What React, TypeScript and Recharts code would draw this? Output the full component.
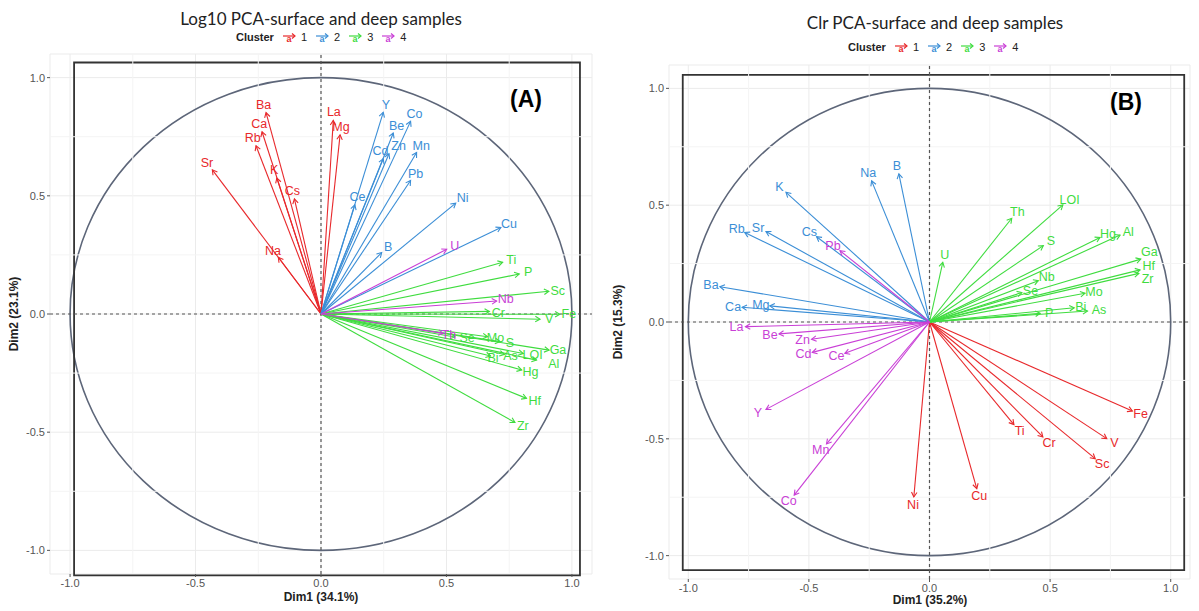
import React from "react";
import {
  ComposedChart,
  XAxis,
  YAxis,
  CartesianGrid,
  ReferenceLine,
  ReferenceArea,
  Scatter,
} from "recharts";

// ── Data: Log10 PCA (panel A) ────────────────────────────────────────────────
const logVars = [
  "Ba", "Ca", "Rb", "K", "Cs", "Na", "Sr", "La", "Mg",
  "Y", "Co", "Be", "Zn", "Cd", "Mn", "Pb", "Ce", "Ni", "B", "Cu",
  "Ti", "P", "Sc", "Cr", "Fe", "V", "Mo", "Se", "S", "LOI", "Ga", "Al", "As", "Hg", "Bi", "Hf", "Zr",
  "U", "Nb", "Th",
];
const logDim1 = [
  -0.219, -0.235, -0.259, -0.176, -0.106, -0.17, -0.433, 0.049, 0.076,
  0.248, 0.357, 0.288, 0.271, 0.248, 0.381, 0.357, 0.135, 0.537, 0.242, 0.717,
  0.724, 0.79, 0.908, 0.671, 0.952, 0.873, 0.664, 0.534, 0.713, 0.806, 0.909, 0.859, 0.731, 0.8, 0.676, 0.819, 0.773,
  0.501, 0.7, 0.487,
];
const logDim2 = [
  0.852, 0.771, 0.712, 0.575, 0.487, 0.24, 0.61, 0.819, 0.758,
  0.853, 0.815, 0.766, 0.678, 0.657, 0.683, 0.565, 0.462, 0.469, 0.26, 0.366,
  0.219, 0.169, 0.096, 0.011, -0.001, -0.022, -0.096, -0.097, -0.117, -0.167, -0.153, -0.195, -0.171, -0.237, -0.178, -0.357, -0.459,
  0.274, 0.055, -0.082,
];
const logCluster = [
  1, 1, 1, 1, 1, 1, 1, 1, 1,
  2, 2, 2, 2, 2, 2, 2, 2, 2, 2, 2,
  3, 3, 3, 3, 3, 3, 3, 3, 3, 3, 3, 3, 3, 3, 3, 3, 3,
  4, 4, 4,
];

// ── Data: Clr PCA (panel B) ──────────────────────────────────────────────────
const clrVars = [
  "Fe", "Ti", "Cr", "V", "Sc", "Cu", "Ni",
  "K", "Na", "B", "Rb", "Sr", "Cs", "Ba", "Mg", "Ca",
  "U", "Th", "LOI", "S", "Hg", "Al", "Ga", "Hf", "Zr", "Nb", "Mo", "Se", "Bi", "As", "P",
  "Pb", "La", "Be", "Zn", "Cd", "Ce", "Y", "Mn", "Co",
];
const clrDim1 = [
  0.841, 0.35, 0.47, 0.735, 0.687, 0.196, -0.065,
  -0.595, -0.24, -0.127, -0.766, -0.678, -0.468, -0.869, -0.662, -0.777,
  0.055, 0.341, 0.553, 0.472, 0.707, 0.79, 0.876, 0.873, 0.868, 0.451, 0.645, 0.383, 0.6, 0.655, 0.459,
  -0.371, -0.763, -0.624, -0.489, -0.486, -0.351, -0.678, -0.427, -0.561,
];
const clrDim2 = [
  -0.381, -0.439, -0.492, -0.499, -0.585, -0.713, -0.749,
  0.555, 0.604, 0.634, 0.383, 0.387, 0.365, 0.151, 0.069, 0.063,
  0.255, 0.444, 0.501, 0.327, 0.362, 0.372, 0.269, 0.223, 0.208, 0.177, 0.123, 0.126, 0.061, 0.047, 0.037,
  0.305, -0.02, -0.051, -0.074, -0.13, -0.134, -0.374, -0.522, -0.741,
];
const clrCluster = [
  1, 1, 1, 1, 1, 1, 1,
  2, 2, 2, 2, 2, 2, 2, 2, 2,
  3, 3, 3, 3, 3, 3, 3, 3, 3, 3, 3, 3, 3, 3, 3,
  4, 4, 4, 4, 4, 4, 4, 4, 4,
];

const clusterColors: Record<number, string> = {
  1: "#e8282b",
  2: "#3b8ed6",
  3: "#3fdc3f",
  4: "#c93fd6",
};

const majorTicks = [-1, -0.5, 0, 0.5, 1];
const minorTicks = [-0.75, -0.25, 0.25, 0.75];

const LABEL_FONT = 12.5;

// ── Label placement (small repel, like ggrepel) ──────────────────────────────
// works in approximate pixel units, then goes back to data units
function repelLabels(names: string[], xs: number[], ys: number[], pxX: number, pxY: number) {
  const items = names.map((n, i) => {
    const X = xs[i] * pxX;
    const Y = -ys[i] * pxY;
    const L = Math.hypot(X, Y) || 1;
    return { n, X: X + (X / L) * 9, Y: Y + (Y / L) * 8, w: n.length * 7.6 + 2, h: 13 };
  });
  for (let it = 0; it < 300; it++) {
    let moved = false;
    for (let i = 0; i < items.length; i++) {
      for (let j = i + 1; j < items.length; j++) {
        const a = items[i];
        const b = items[j];
        const ox = (a.w + b.w) / 2 - Math.abs(a.X - b.X);
        const oy = (a.h + b.h) / 2 - Math.abs(a.Y - b.Y);
        if (ox > 0 && oy > 0) {
          moved = true;
          if (oy * 1.4 < ox) {
            const s = a.Y <= b.Y ? -1 : 1;
            a.Y += (s * (oy + 1)) / 2;
            b.Y -= (s * (oy + 1)) / 2;
          } else {
            const s = a.X <= b.X ? -1 : 1;
            a.X += (s * (ox + 1)) / 2;
            b.X -= (s * (ox + 1)) / 2;
          }
        }
      }
    }
    if (!moved) break;
  }
  return items.map(it => ({ x: it.X / pxX, y: -it.Y / pxY }));
}

// ── Arrow ────────────────────────────────────────────────────────────────────

function ArrowShape(props: any) {
  const { x1, y1, x2, y2, color } = props;
  const a = Math.atan2(y2 - y1, x2 - x1);
  const head = 5.5;
  const ang = Math.PI / 6;
  const h1x = x2 - head * Math.cos(a - ang);
  const h1y = y2 - head * Math.sin(a - ang);
  const h2x = x2 - head * Math.cos(a + ang);
  const h2y = y2 - head * Math.sin(a + ang);
  return (
    <g>
      <line x1={x1} y1={y1} x2={x2} y2={y2} stroke={color} strokeWidth={1.1} />
      <polyline
        points={`${h1x},${h1y} ${x2},${y2} ${h2x},${h2y}`}
        fill="none"
        stroke={color}
        strokeWidth={1.1}
      />
    </g>
  );
}

// circle of correlations, inscribed in the [-1,1] square
function CircleShape(props: any) {
  const { x, y, width, height } = props;
  return (
    <ellipse
      cx={x + width / 2}
      cy={y + height / 2}
      rx={width / 2}
      ry={height / 2}
      fill="none"
      stroke="#5d6679"
      strokeWidth={1.6}
    />
  );
}

function LabelShape(props: any) {
  const { cx, cy, payload } = props;
  return (
    <text
      x={cx}
      y={cy}
      textAnchor="middle"
      dominantBaseline="central"
      fill={payload.color}
      fontSize={LABEL_FONT}
      fontFamily="'Liberation Sans', Arial, sans-serif"
    >
      {payload.name}
    </text>
  );
}

// ── Legend ───────────────────────────────────────────────────────────────────

function KeyIcon({ color }: { color: string }) {
  return (
    <svg width={14} height={12} style={{ verticalAlign: "middle" }}>
      <line x1={1} y1={5} x2={13} y2={5} stroke={color} strokeWidth={1.2} />
      <polyline points="10,2.5 13,5 10,7.5" fill="none" stroke={color} strokeWidth={1.2} />
      <text x={7} y={10.5} textAnchor="middle" fontSize={9} fontWeight="bold" fill={color} fontFamily="Arial">
        a
      </text>
    </svg>
  );
}

function ClusterLegend({ left, top }: { left: number; top: number }) {
  return (
    <div
      style={{
        position: "absolute",
        left,
        top,
        display: "flex",
        alignItems: "center",
        gap: 6,
        fontFamily: "'Liberation Sans', Arial, sans-serif",
        fontSize: 11,
        color: "#222",
        whiteSpace: "nowrap",
      }}
    >
      <span style={{ fontWeight: "bold" }}>Cluster</span>
      {[1, 2, 3, 4].map(c => (
        <span key={c} style={{ display: "flex", alignItems: "center", gap: 5, marginLeft: 2 }}>
          <KeyIcon color={clusterColors[c]} />
          <span>{c}</span>
        </span>
      ))}
    </div>
  );
}

// ── One biplot panel ─────────────────────────────────────────────────────────

interface PanelProps {
  vars: string[];
  dim1: number[];
  dim2: number[];
  cluster: number[];
  width: number;
  margin: { top: number; right: number; bottom: number; left: number };
  frame: [number, number, number, number];
  pxPerUnit: [number, number];
}

function Biplot({ vars, dim1, dim2, cluster, width, margin, frame, pxPerUnit }: PanelProps) {
  const pos = repelLabels(vars, dim1, dim2, pxPerUnit[0], pxPerUnit[1]);
  const labels = vars.map((v, i) => ({
    name: v,
    x: pos[i].x,
    y: pos[i].y,
    color: clusterColors[cluster[i]],
  }));
  return (
    <ComposedChart width={width} height={611} margin={margin}>
      <CartesianGrid stroke="#ebebeb" strokeWidth={1} />
      <XAxis
        type="number"
        dataKey="x"
        domain={[-1.08, 1.08]}
        ticks={majorTicks}
        tickFormatter={v => v.toFixed(1)}
        allowDataOverflow
        axisLine={false}
        tickLine={{ stroke: "#555" }}
        tickSize={3}
        height={20}
        tick={{ fontSize: 11, fill: "#555", fontFamily: "'Liberation Sans', Arial" }}
      />
      <YAxis
        type="number"
        dataKey="y"
        domain={[-1.1, 1.1]}
        ticks={majorTicks}
        tickFormatter={v => v.toFixed(1)}
        allowDataOverflow
        axisLine={false}
        tickLine={{ stroke: "#555" }}
        tickSize={3}
        width={42}
        tick={{ fontSize: 11, fill: "#555", fontFamily: "'Liberation Sans', Arial" }}
      />
      {minorTicks.map(t => (
        <ReferenceLine key={`mx${t}`} x={t} stroke="#f4f4f4" strokeWidth={1} />
      ))}
      {minorTicks.map(t => (
        <ReferenceLine key={`my${t}`} y={t} stroke="#f4f4f4" strokeWidth={1} />
      ))}
      <ReferenceArea x1={-1} x2={1} y1={-1} y2={1} shape={<CircleShape />} ifOverflow="visible" />
      <ReferenceArea
        x1={frame[0]}
        x2={frame[1]}
        y1={frame[2]}
        y2={frame[3]}
        fill="none"
        stroke="#333"
        strokeWidth={1.8}
        fillOpacity={0}
        ifOverflow="visible"
      />
      <ReferenceLine x={0} stroke="#555" strokeDasharray="3 3" strokeWidth={1.2} />
      <ReferenceLine y={0} stroke="#555" strokeDasharray="3 3" strokeWidth={1.2} />
      {vars.map((v, i) => (
        <ReferenceLine
          key={v}
          segment={[
            { x: 0, y: 0 },
            { x: dim1[i], y: dim2[i] },
          ]}
          ifOverflow="visible"
          shape={(sp: any) => <ArrowShape {...sp} color={clusterColors[cluster[i]]} />}
        />
      ))}
      <Scatter data={labels} isAnimationActive={false} shape={<LabelShape />} />
    </ComposedChart>
  );
}

const textBase: React.CSSProperties = {
  position: "absolute",
  whiteSpace: "nowrap",
  color: "#222",
};

export default function App() {
  return (
    <div
      style={{
        position: "absolute",
        left: 0,
        top: 0,
        width: 1199,
        height: 611,
        background: "#fff",
        overflow: "hidden",
      }}
    >
      {/* Panel A */}
      <div style={{ position: "absolute", left: 0, top: 0 }}>
        <Biplot
          vars={logVars}
          dim1={logDim1}
          dim2={logDim2}
          cluster={logCluster}
          width={600}
          margin={{ top: 54, right: 8, bottom: 17, left: 8 }}
          frame={[-0.984, 1.032, -1.106, 1.064]}
          pxPerUnit={[251, 236]}
        />
      </div>
      {/* Panel B */}
      <div style={{ position: "absolute", left: 600, top: 0 }}>
        <Biplot
          vars={clrVars}
          dim1={clrDim1}
          dim2={clrDim2}
          cluster={clrCluster}
          width={599}
          margin={{ top: 65, right: 9, bottom: 12, left: 27 }}
          frame={[-1.023, 1.056, -1.062, 1.058]}
          pxPerUnit={[241, 233.5]}
        />
      </div>

      {/* Titles */}
      <div style={{ ...textBase, left: 321, top: 8, transform: "translateX(-50%)", fontFamily: "Lato", fontSize: 17 }}>
        Log10 PCA-surface and deep samples
      </div>
      <div style={{ ...textBase, left: 935, top: 12, transform: "translateX(-50%)", fontFamily: "Lato", fontSize: 17 }}>
        Clr PCA-surface and deep samples
      </div>
      <ClusterLegend left={236} top={31} />
      <ClusterLegend left={848} top={41} />

      {/* Panel tags */}
      <div style={{ ...textBase, left: 510, top: 86, fontFamily: "'Liberation Sans', Arial", fontWeight: "bold", fontSize: 23, color: "#000" }}>
        (A)
      </div>
      <div style={{ ...textBase, left: 1110, top: 89, fontFamily: "'Liberation Sans', Arial", fontWeight: "bold", fontSize: 23, color: "#000" }}>
        (B)
      </div>

      {/* Axis titles */}
      <div style={{ ...textBase, left: 321, top: 590, transform: "translateX(-50%)", fontFamily: "'Liberation Sans', Arial", fontWeight: "bold", fontSize: 12 }}>
        Dim1 (34.1%)
      </div>
      <div style={{ ...textBase, left: 930, top: 593, transform: "translateX(-50%)", fontFamily: "'Liberation Sans', Arial", fontWeight: "bold", fontSize: 12 }}>
        Dim1 (35.2%)
      </div>
      <div style={{ ...textBase, left: 14, top: 314, transform: "translate(-50%, -50%) rotate(-90deg)", fontFamily: "'Liberation Sans', Arial", fontWeight: "bold", fontSize: 12 }}>
        Dim2 (23.1%)
      </div>
      <div style={{ ...textBase, left: 618, top: 322, transform: "translate(-50%, -50%) rotate(-90deg)", fontFamily: "'Liberation Sans', Arial", fontWeight: "bold", fontSize: 12 }}>
        Dim2 (15.3%)
      </div>
    </div>
  );
}
